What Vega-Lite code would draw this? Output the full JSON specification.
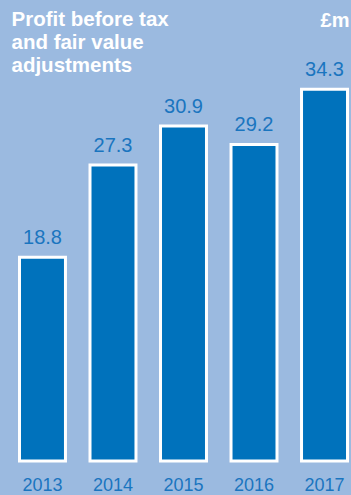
{
  "$schema": "https://vega.github.io/schema/vega-lite/v6.json",
  "autosize": {"type": "none"},
  "width": 328,
  "height": 381,
  "padding": {"left": 19.5, "top": 80, "right": 3.5, "bottom": 34},
  "background": "#9bbae0",
  "title": {
    "text": ["Profit before tax", "and fair value", "adjustments"],
    "anchor": "start",
    "frame": "group",
    "dx": -8,
    "dy": 72,
    "font": "Liberation Sans",
    "fontSize": 20.5,
    "fontWeight": "bold",
    "lineHeight": 23,
    "color": "#ffffff",
    "offset": 6
  },
  "data": {
    "values": [
      {"year": "2013", "value": 18.8},
      {"year": "2014", "value": 27.3},
      {"year": "2015", "value": 30.9},
      {"year": "2016", "value": 29.2},
      {"year": "2017", "value": 34.3}
    ]
  },
  "encoding": {
    "x": {
      "field": "year",
      "type": "ordinal",
      "scale": {"paddingInner": 0.348, "paddingOuter": 0},
      "axis": {
        "title": null,
        "domain": false,
        "ticks": false,
        "labelAngle": 0,
        "labelFont": "Liberation Sans",
        "labelFontSize": 18,
        "labelColor": "#1a75bf",
        "labelPadding": 15.7
      }
    },
    "y": {
      "field": "value",
      "type": "quantitative",
      "scale": {"domain": [0, 35.15], "nice": false},
      "axis": {
        "orient": "right",
        "title": "£m",
        "titleAngle": 0,
        "titleAlign": "right",
        "titleBaseline": "alphabetic",
        "titleX": 1.5,
        "titleY": -54,
        "titleFont": "Liberation Sans",
        "titleFontSize": 20,
        "titleFontWeight": "bold",
        "titleColor": "#ffffff",
        "labels": false,
        "ticks": false,
        "domain": false,
        "grid": false
      }
    }
  },
  "layer": [
    {
      "mark": {"type": "bar", "color": "#0072bc", "stroke": "#ffffff", "strokeWidth": 3}
    },
    {
      "mark": {
        "type": "text",
        "baseline": "alphabetic",
        "dy": -13,
        "font": "Liberation Sans",
        "fontSize": 20,
        "color": "#1a75bf"
      },
      "encoding": {"text": {"field": "value", "type": "quantitative", "format": ".1f"}}
    }
  ],
  "config": {"view": {"stroke": null}}
}
